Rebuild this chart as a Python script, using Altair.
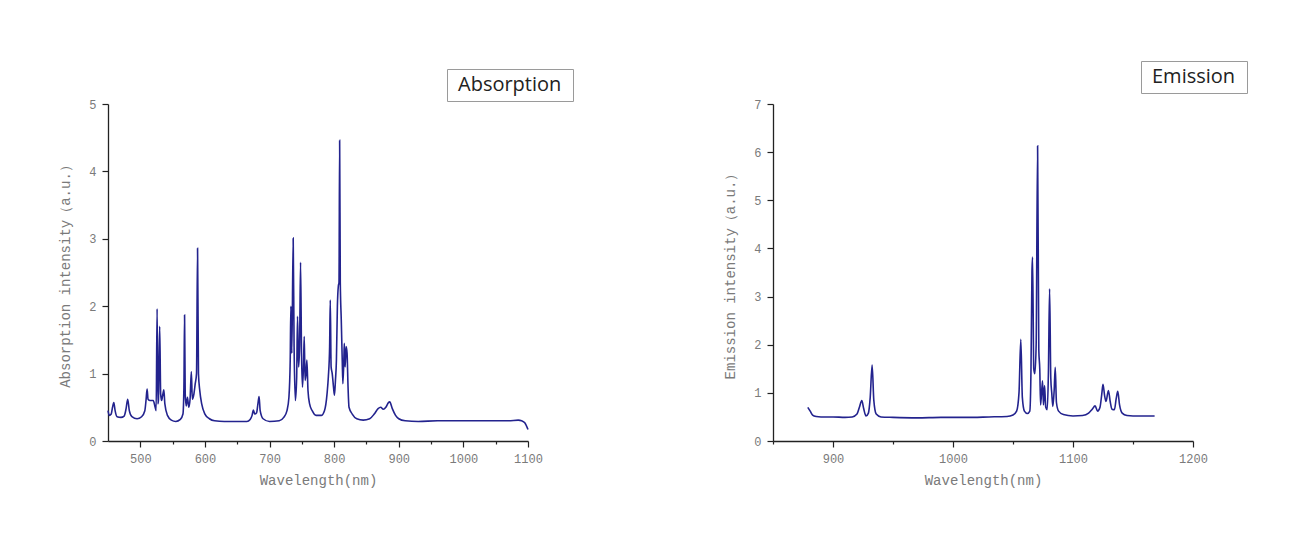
import altair as alt
import pandas as pd

# ---- Absorption spectrum ----
abs_wl = [450, 452, 455, 457, 459, 461, 464, 470, 475, 478, 480.5, 483, 487, 495,
          502, 507, 509, 510.5, 512, 515, 520, 523, 524.5, 526, 527.2, 528, 530,
          531.5, 533, 535, 536.4, 538, 542, 548, 555, 562, 566, 567.5, 568.5,
          569.5, 571, 573, 575, 577, 579, 580.5, 583, 585, 587, 588.6, 590, 592,
          595, 600, 607, 615, 630, 650, 665, 670, 673, 675, 677, 680, 682, 683.8,
          685.5, 690, 700, 715, 722, 727, 730, 732, 733, 734.5, 736.6, 738, 740,
          742, 743.3, 745, 746.5, 748, 749.5, 751, 752.5, 753.7, 755, 756.5,
          757.8, 759.5, 762, 766, 772, 780, 785, 789, 791, 793, 794, 795.3, 797,
          799, 800.5, 802, 803.5, 805, 806.5, 807.5, 808.5, 809.5, 811, 812.5,
          813.5, 815, 815.7, 817, 818.5, 820, 821.5, 823, 828, 835, 845, 855,
          862, 868, 872, 876, 880, 884, 886, 890, 895, 900, 910, 930, 960, 1000,
          1040, 1070, 1085, 1090, 1095, 1100]
abs_val = [0.45, 0.38, 0.40, 0.50, 0.57, 0.45, 0.36, 0.35, 0.37, 0.48, 0.62, 0.45, 0.36, 0.33,
           0.36, 0.45, 0.62, 0.77, 0.62, 0.60, 0.60, 0.50, 0.45, 1.96, 0.55, 0.60, 1.70,
           0.70, 0.60, 0.70, 0.76, 0.55, 0.38, 0.31, 0.29, 0.32, 0.40, 0.80, 1.87,
           0.70, 0.52, 0.65, 0.50, 0.62, 1.03, 0.62, 0.70, 0.85, 1.00, 2.86, 1.00, 0.75,
           0.55, 0.40, 0.33, 0.30, 0.29, 0.29, 0.29, 0.32, 0.38, 0.46, 0.40, 0.42, 0.55, 0.66,
           0.45, 0.33, 0.29, 0.30, 0.35, 0.45, 0.65, 1.20, 2.00, 1.30, 3.01, 1.40, 0.60,
           0.95, 1.85, 1.10, 1.40, 2.65, 1.30, 0.80, 1.10, 1.55, 0.90, 1.00,
           1.20, 0.75, 0.55, 0.45, 0.38, 0.38, 0.45, 0.70, 0.95, 1.40, 2.09, 1.10, 1.00,
           0.80, 0.68, 0.90, 1.20, 2.00, 2.30, 2.35, 4.46, 2.35, 1.80, 1.20,
           0.85, 1.20, 1.45, 1.10, 1.40, 1.30, 0.80, 0.50, 0.40, 0.33, 0.31, 0.33,
           0.40, 0.48, 0.50, 0.47, 0.50, 0.57, 0.58, 0.48, 0.38, 0.33, 0.30, 0.29, 0.30, 0.30,
           0.30, 0.30, 0.31, 0.30, 0.27, 0.17]

# ---- Emission spectrum ----
emi_wl = [879, 881, 883, 886, 890, 900, 910, 916, 920, 922, 924, 925.5, 927.5, 929.5,
          931, 932.6, 934, 936, 940, 950, 970, 990, 1010, 1030, 1045, 1050, 1053,
          1055, 1056.5, 1057.8, 1059.5, 1062, 1064, 1065, 1065.8, 1066.3, 1067.3,
          1068.2, 1069.3, 1070.5, 1071.5, 1072.3, 1073, 1074.6, 1075.4, 1076.3,
          1077.3, 1078.5, 1079.5, 1080.5, 1081.5, 1082.3, 1083.2, 1084.3, 1085.2,
          1086.2, 1088, 1092, 1100, 1108, 1113, 1116, 1118.4, 1120.5, 1122.5, 1124,
          1125, 1126.3, 1127.5, 1129.5, 1131, 1132.5, 1134.5, 1136, 1137.3, 1138.8,
          1141, 1145, 1150, 1160, 1168]
emi_val = [0.70, 0.62, 0.54, 0.51, 0.50, 0.50, 0.49, 0.50, 0.56, 0.70, 0.84, 0.68, 0.52, 0.58,
           0.90, 1.58, 0.85, 0.56, 0.50, 0.49, 0.48, 0.49, 0.49, 0.50, 0.51, 0.54, 0.62,
           1.00, 2.11, 0.90, 0.62, 0.57, 0.62, 1.50, 3.50, 3.82, 1.50,
           1.40, 2.00, 6.13, 1.90, 1.50, 0.75, 1.25, 0.75, 1.15,
           0.70, 0.65, 1.40, 3.16, 1.30, 1.00, 0.72, 1.05, 1.53,
           0.80, 0.62, 0.55, 0.52, 0.53, 0.58, 0.66, 0.73, 0.62, 0.70, 0.98,
           1.18, 0.95, 0.82, 1.05, 0.82, 0.66, 0.65, 0.88, 1.03, 0.75,
           0.58, 0.53, 0.52, 0.52, 0.52]

abs_xticks = [500, 550, 600, 650, 700, 750, 800, 850, 900, 950, 1000, 1050, 1100]
emi_xticks = [850, 900, 950, 1000, 1050, 1100, 1150, 1200]
abs_yticks = [0, 0.5, 1, 1.5, 2, 2.5, 3, 3.5, 4, 4.5, 5]
emi_yticks = [0, 0.5, 1, 1.5, 2, 2.5, 3, 3.5, 4, 4.5, 5, 5.5, 6, 6.5, 7]

LINE = "#23238e"
AXFONT = "Liberation Mono"
GRAY = "#7a7a7a"

df_abs = pd.DataFrame({"wl": abs_wl, "val": abs_val, "series": "Absorption"})
df_emi = pd.DataFrame({"wl": emi_wl, "val": emi_val, "series": "Emission"})


def axis(values, title, major_test, label_pad, title_pad):
    return alt.Axis(
        values=values,
        title=title,
        format="d",
        grid=False,
        domainColor="#222222",
        domainWidth=1.3,
        tickColor="#222222",
        tickWidth=1.2,
        tickSize={"expr": f"({major_test}) ? 6 : 3"},
        labelExpr=f"({major_test}) ? datum.label : ''",
        labelFont=AXFONT,
        labelFontSize=12,
        labelColor=GRAY,
        labelPadding=label_pad,
        titleFont=AXFONT,
        titleFontSize=14,
        titleFontWeight="normal",
        titleColor=GRAY,
        titlePadding=title_pad,
        labelFlush=False,
        labelOverlap=False,
    )


def panel(df, xdom, ydom, xticks, yticks, ytitle, name, lx, ly):
    return alt.Chart(df).mark_line(strokeWidth=1.6, interpolate="monotone").encode(
        x=alt.X("wl:Q", scale=alt.Scale(domain=xdom, nice=False, zero=False),
                axis=axis(xticks, "Wavelength(nm)", "datum.value % 100 === 0", 6, 9)),
        y=alt.Y("val:Q", scale=alt.Scale(domain=ydom, nice=False),
                axis=axis(yticks, ytitle, "datum.value % 1 === 0", 6, 16)),
        color=alt.Color("series:N",
                        scale=alt.Scale(domain=[name], range=[LINE]),
                        legend=alt.Legend(
                            title="\u00a0", titleOrient="right", titlePadding=6,
                            titleFontSize=8,
                            orient="none", legendX=lx, legendY=ly,
                            strokeColor="#9a9a9a", fillColor="white", padding=6,
                            symbolSize=0, symbolOpacity=0, symbolStrokeWidth=0,
                            symbolType="circle",
                            labelOffset={"expr": "-15"}, labelAlign="left",
                            labelFont="Open Sans", labelFontSize=20, labelColor="#222222",
                        )),
    ).properties(width=420, height=337)


left = panel(df_abs, [450, 1100], [0, 5], abs_xticks, abs_yticks,
             "Absorption intensity（a.u.）", "Absorption", 339, -35)
right = panel(df_emi, [850, 1200], [0, 7], emi_xticks, emi_yticks,
              "Emission intensity（a.u.）", "Emission", 368, -43)

chart = alt.hconcat(left, right, spacing=245, bounds="flush").resolve_scale(
    color="independent"
).resolve_legend(color="independent").properties(
    padding={"left": 50, "top": 52, "right": 5, "bottom": 5},
    background="white",
).configure_view(stroke=None)

chart.save("out.html", embed_options={"renderer": "svg", "actions": False})
